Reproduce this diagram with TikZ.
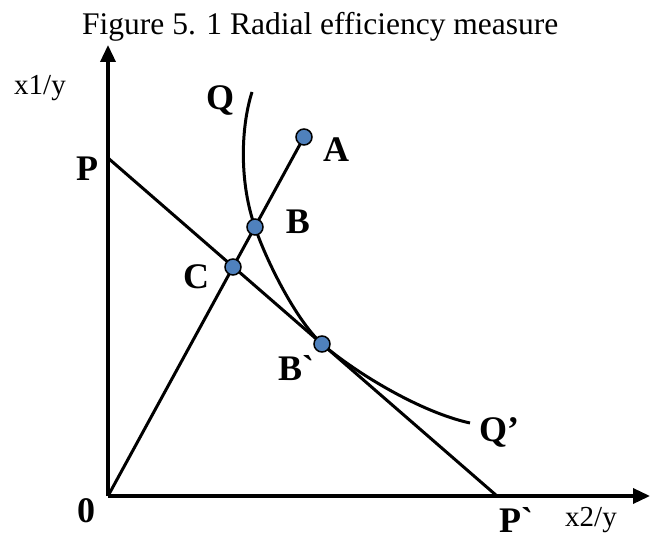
\documentclass[tikz,border=0pt]{standalone}
\usepackage{fontspec}
\setmainfont{Liberation Serif}
\newfontfamily\lblfont{Liberation Serif}
\usetikzlibrary{arrows.meta}
\definecolor{dotblue}{RGB}{79,129,189}
\begin{document}
\begin{tikzpicture}[x=1pt,y=-1pt,
  axis/.style={line width=3.5pt,-{Triangle[length=17pt,width=15pt]}},
  seg/.style={line width=3pt},
  dotmark/.style={circle,draw=black,line width=1.5pt,fill=dotblue,minimum size=16pt,inner sep=0pt},
  lbl/.style={font=\lblfont\fontsize{36}{40}\selectfont\bfseries,inner sep=0pt,anchor=base},
  axlbl/.style={font=\fontsize{29}{34}\selectfont,inner sep=0pt,anchor=base},
  ttl/.style={font=\fontsize{31.5}{36}\selectfont,inner sep=0pt,anchor=base west}]
\useasboundingbox (0,0) rectangle (650,540);
% coordinates
\coordinate (O) at (108,496);
\coordinate (Ytop) at (108,45);
\coordinate (Xend) at (650,496);
\coordinate (P) at (108,158);
\coordinate (Pp) at (497,496);
\coordinate (A) at (304,137);
\coordinate (B) at (255,227);
\coordinate (C) at (233,267);
\coordinate (Bp) at (322,344);
\coordinate (Qtop) at (252,92);
\coordinate (Qend) at (470,423);
% title
\node[ttl] (title) at (82,35) {Figure 5. 1 Radial efficiency measure};
% axes
\draw[axis] (O) -- (Ytop);
\draw[axis] (O) -- (Xend);
% budget line and ray
\draw[seg] (P) -- (Pp);
\draw[seg] (O) -- (A);
% isoquant
\draw[seg] (Qtop) .. controls (240,130) and (240,185) .. (B)
  .. controls (264,255) and (294,318) .. (Bp)
  .. controls (356,373) and (420,412) .. (Qend);
% dots
\node[dotmark] (dA) at (A) {};
\node[dotmark] (dB) at (B) {};
\node[dotmark] (dC) at (C) {};
\node[dotmark] (dBp) at (Bp) {};
% labels
\node[axlbl] (ylab) at (40,95) {x1/y};
\node[axlbl] (xlab) at (591,526) {x2/y};
\node[lbl] (lP) at (87,181) {P};
\node[lbl] (lQ) at (220,110) {Q};
\node[lbl] (lA) at (336,162) {A};
\node[lbl] (lB) at (298,233) {B};
\node[lbl] (lC) at (196,288) {C};
\node[lbl] (lBp) at (296,380) {B`};
\node[lbl] (lQp) at (499,441) {Q’};
\node[lbl] (lO) at (86,522) {0};
\node[lbl] (lPp) at (516,532) {P`};
\end{tikzpicture}
\end{document}
